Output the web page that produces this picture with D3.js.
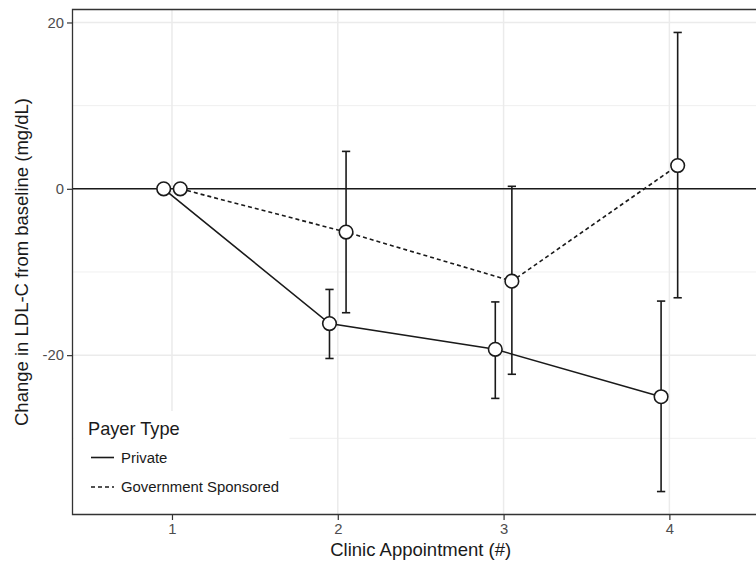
<!DOCTYPE html>
<html>
<head>
<meta charset="utf-8">
<script src="https://cdn.jsdelivr.net/npm/d3@7"></script>
<style>
  html, body { margin: 0; padding: 0; background: #fff; }
  svg { display: block; font-family: "Liberation Sans", Arial, Helvetica, sans-serif; }
</style>
</head>
<body>
<svg id="chart" width="756" height="564"></svg>
<script>
// Clinic appointments (x axis categories)
const visits = [1, 2, 3, 4];
const xTickLabels = ["1", "2", "3", "4"];
const yTicks = [-20, 0, 20];
const yMinorTicks = [-30, -10, 10];

// Mean change in LDL-C (mg/dL) with error bar limits, per payer type
const privateMean = [0, -16.2, -19.3, -25.0];
const privateLow  = [null, -20.4, -25.2, -36.4];
const privateHigh = [null, -12.1, -13.6, -13.5];

const govMean = [0, -5.2, -11.1, 2.8];
const govLow  = [null, -14.9, -22.3, -13.1];
const govHigh = [null, 4.5, 0.3, 18.8];

const seriesNames = ["Private", "Government Sponsored"];
const seriesDash = [null, "4,3"];
const dodge = [-0.05, 0.05];

const svg = d3.select("#chart");
const panel = { left: 72.5, top: 9.5, bottom: 514.5 };
const unitPx = 165.8;

// Discrete-style x scale with 0.6 expansion on each side
const x = d3.scaleLinear().domain([0.4, 4.6]).range([panel.left, panel.left + 4.2 * unitPx]);

// y domain: data extent padded by 5%
const allY = [...privateLow, ...privateHigh, ...govLow, ...govHigh, ...privateMean, ...govMean].filter(v => v !== null);
const yMin = d3.min(allY), yMax = d3.max(allY);
const pad = (yMax - yMin) * 0.05;
const y = d3.scaleLinear().domain([yMin - pad, yMax + pad]).range([panel.bottom, panel.top]);

const right = 756;
const grid = svg.append("g");
// minor horizontal gridlines
grid.selectAll("line.minor").data(yMinorTicks).join("line")
  .attr("x1", panel.left).attr("x2", right)
  .attr("y1", d => y(d)).attr("y2", d => y(d))
  .attr("stroke", "#ebebeb").attr("stroke-width", 0.8);
// major gridlines
grid.selectAll("line.majy").data(yTicks).join("line")
  .attr("x1", panel.left).attr("x2", right)
  .attr("y1", d => y(d)).attr("y2", d => y(d))
  .attr("stroke", "#ebebeb").attr("stroke-width", 1.5);
grid.selectAll("line.majx").data(visits).join("line")
  .attr("x1", d => x(d)).attr("x2", d => x(d))
  .attr("y1", panel.top).attr("y2", panel.bottom)
  .attr("stroke", "#ebebeb").attr("stroke-width", 1.5);

// reference line at zero change
svg.append("line")
  .attr("x1", panel.left).attr("x2", right)
  .attr("y1", y(0)).attr("y2", y(0))
  .attr("stroke", "#1a1a1a").attr("stroke-width", 1.6);

const series = [
  { mean: privateMean, low: privateLow, high: privateHigh },
  { mean: govMean, low: govLow, high: govHigh }
];

const markG = svg.append("g");
series.forEach((s, i) => {
  const pts = visits.map((v, j) => ({ x: v + dodge[i], m: s.mean[j], lo: s.low[j], hi: s.high[j] }));
  // error bars
  const eb = markG.append("g");
  pts.filter(p => p.lo !== null).forEach(p => {
    const cx = x(p.x), half = x(0.025) - x(0);
    eb.append("line").attr("x1", cx).attr("x2", cx).attr("y1", y(p.lo)).attr("y2", y(p.hi))
      .attr("stroke", "#1a1a1a").attr("stroke-width", 1.6);
    [p.lo, p.hi].forEach(v => {
      eb.append("line").attr("x1", cx - half).attr("x2", cx + half).attr("y1", y(v)).attr("y2", y(v))
        .attr("stroke", "#1a1a1a").attr("stroke-width", 1.6);
    });
  });
});
series.forEach((s, i) => {
  const pts = visits.map((v, j) => ({ x: v + dodge[i], m: s.mean[j] }));
  markG.append("path")
    .attr("d", d3.line().x(p => x(p.x)).y(p => y(p.m))(pts))
    .attr("fill", "none").attr("stroke", "#1a1a1a").attr("stroke-width", 1.6)
    .attr("stroke-dasharray", seriesDash[i]);
});
series.forEach((s, i) => {
  const pts = visits.map((v, j) => ({ x: v + dodge[i], m: s.mean[j] }));
  markG.selectAll(null).data(pts).join("circle")
    .attr("cx", p => x(p.x)).attr("cy", p => y(p.m)).attr("r", 6.8)
    .attr("fill", "#fff").attr("stroke", "#1a1a1a").attr("stroke-width", 1.6);
});

// legend inside the panel, bottom-left
const lg = svg.append("g");
lg.append("rect").attr("x", panel.left + 1).attr("y", 411).attr("width", 216).attr("height", panel.bottom - 411 - 0.5)
  .attr("fill", "#fff");
lg.append("text").attr("x", 88).attr("y", 435).attr("font-size", 18.2).attr("fill", "#1a1a1a").text("Payer Type");
const itemY = [457.5, 487];
seriesNames.forEach((name, i) => {
  lg.append("line").attr("x1", 91).attr("x2", 114).attr("y1", itemY[i]).attr("y2", itemY[i])
    .attr("stroke", "#1a1a1a").attr("stroke-width", 1.6).attr("stroke-dasharray", seriesDash[i]);
  lg.append("text").attr("x", 121).attr("y", itemY[i]).attr("dy", "0.36em")
    .attr("font-size", 14.9).attr("fill", "#1a1a1a").text(name);
});

// panel border (left, top, bottom)
svg.append("path")
  .attr("d", `M${right},${panel.top}H${panel.left}V${panel.bottom}H${right}`)
  .attr("fill", "none").attr("stroke", "#333").attr("stroke-width", 1.3);

// axes
const yAxis = d3.axisLeft(y).tickValues(yTicks).tickSize(5).tickPadding(3).tickFormat(d3.format("d"));
const yG = svg.append("g").attr("transform", `translate(${panel.left - 0.5},0)`).call(yAxis);
yG.select(".domain").remove();
yG.selectAll(".tick line").attr("stroke", "#333").attr("stroke-width", 1.2);
yG.selectAll(".tick text").attr("font-size", 14.8).attr("fill", "#4d4d4d")
  .attr("font-family", "Liberation Sans, Arial, sans-serif").text(d => d < 0 ? "-" + Math.abs(d) : d);

const xAxis = d3.axisBottom(x).tickValues(visits).tickSize(5).tickPadding(3).tickFormat((d, i) => xTickLabels[i]);
const xG = svg.append("g").attr("transform", `translate(0,${panel.bottom + 0.5})`).call(xAxis);
xG.select(".domain").remove();
xG.selectAll(".tick line").attr("stroke", "#333").attr("stroke-width", 1.2);
xG.selectAll(".tick text").attr("font-size", 14.8).attr("fill", "#4d4d4d")
  .attr("font-family", "Liberation Sans, Arial, sans-serif");

// axis titles
svg.append("text").attr("x", (panel.left + x(4.6)) / 2).attr("y", 556).attr("text-anchor", "middle")
  .attr("font-size", 18.5).attr("fill", "#1a1a1a").text("Clinic Appointment (#)");
svg.append("text").attr("transform", `translate(28,${(panel.top + panel.bottom) / 2}) rotate(-90)`)
  .attr("text-anchor", "middle").attr("font-size", 18.5).attr("fill", "#1a1a1a")
  .text("Change in LDL-C from baseline (mg/dL)");
</script>
</body>
</html>
